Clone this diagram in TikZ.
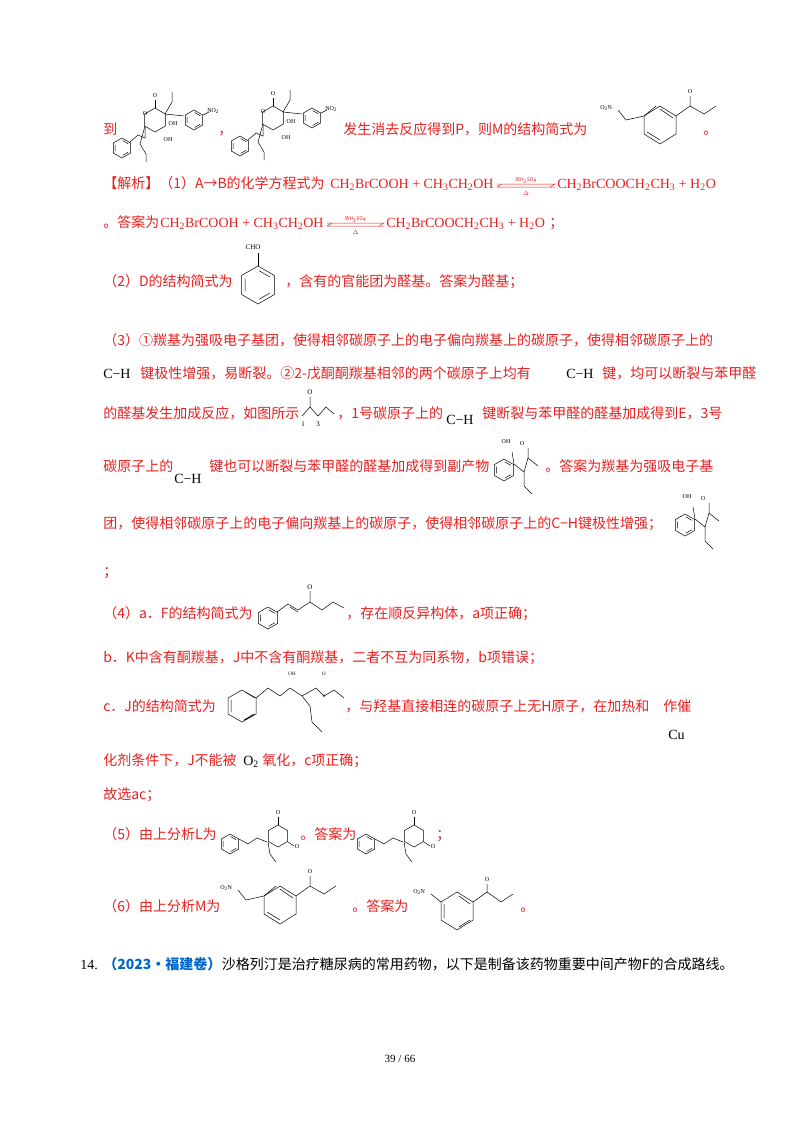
\documentclass[tikz,border=0pt]{standalone}
\usepackage{fontspec}
\setmainfont{Liberation Serif}
\newfontfamily\cjk{Noto Sans CJK SC}
\definecolor{rd}{RGB}{232,32,32}
\definecolor{bl}{RGB}{0,102,204}
\newcommand\hexa[3]{\draw[shift={(#1,#2)}] (30:#3)--(90:#3)--(150:#3)--(210:#3)--(270:#3)--(330:#3)--cycle;}
\newcommand\benz[3]{\hexa{#1}{#2}{#3}\draw[shift={(#1,#2)}] (35:#3*0.75)--(85:#3*0.75) (155:#3*0.75)--(205:#3*0.75) (275:#3*0.75)--(325:#3*0.75);}
\newcommand\molA[2]{\begin{scope}[shift={(#1,#2)}]
 \hexa{45}{32}{12}
 \draw (45,20)--(45,12); \node[lab] at (45,8) {O};
 \benz{12}{60}{10}
 \draw (20,54)--(28,47)--(35,50)--(35,38);
 \draw (35,38)--(30,56)--(36,66)--(36,74);
 \draw (55,26)--(62,14)--(62,4);
 \benz{84}{32}{10}
 \draw (55,26)--(74,28);
 \draw (93,27)--(99,24); \node[lab,anchor=west] at (97,23) {NO\textsubscript{2}};
 \node[lab] at (63,36) {OH}; \node[lab] at (58,52) {OH};
 \node[lab] at (35,26) {O};
\end{scope}}
\newcommand\molB[2]{\begin{scope}[shift={(#1,#2)}]
 \node[lab] at (12,0) {OH}; \node[lab] at (28,2) {O};
 \benz{10}{28}{11}
 \draw (20,22)--(18,10) (20,22)--(30,30)--(34,16)--(34,6) (34,16)--(44,24);
 \draw (30,30)--(30,44)--(38,52);
\end{scope}}
\newcommand\molL[2]{\begin{scope}[shift={(#1,#2)}]
 \benz{10}{26}{10}
 \draw (19,21)--(28,26)--(37,20)--(47,24);
 \hexa{58}{18}{11}
 \draw (58,7)--(58,-1); \node[lab] at (58,-5) {O};
 \draw (68,24)--(74,28); \node[lab] at (77,29) {O};
 \draw (48,24)--(50,36)--(56,44);
\end{scope}}
\newcommand\molM[2]{\begin{scope}[shift={(#1,#2)}]
 \node[lab,anchor=west] at (0,14) {O\textsubscript{2}N};
 \draw (18,16)--(26,26)--(44,22)--(56,12);
 \draw (44,22)--(44,40)--(60,50)--(76,40)--(76,22)--(60,12)--(44,22);
 \draw (47,38)--(60,46) (73,24)--(60,15);
 \draw (76,22)--(90,12)--(90,2); \node[lab] at (90,-2) {O};
 \draw (90,12)--(104,20)--(116,12);
\end{scope}}
\tikzset{lab/.style={font=\fontsize{6}{6}\selectfont,inner sep=0pt},
 t/.style={anchor=base west,inner sep=0pt,text=rd,font=\cjk\fontsize{14}{14}\selectfont},
 f/.style={anchor=base west,inner sep=0pt,text=rd,font=\fontsize{14}{14}\selectfont},
 blk/.style={anchor=base west,inner sep=0pt,font=\fontsize{14}{14}\selectfont}}
\newcommand\eqarrow[3]{\draw[rd,line width=0.5pt] (#1,#3-4)--(#2,#3-4)--++(-5,3); \draw[rd,line width=0.5pt] (#1,#3-1)--(#2,#3-1) (#1,#3-1)--++(5,-3);
 \node[lab,text=rd,font=\cjk\fontsize{5}{5}\selectfont] at ({(#1+#2)/2},#3-8) {浓H\textsubscript{2}SO\textsubscript{4}};
 \node[lab,text=rd] at ({(#1+#2)/2},#3+5) {$\Delta$};}
\begin{document}
\begin{tikzpicture}[x=1pt,y=-1pt,line width=0.5pt]
\useasboundingbox[fill=white] (0,0) rectangle (800,1132);
\node[t] (l1a) at (103,134) {到};
\molA{110}{88}
\node[t] (l1b) at (218,134) {，};
\molA{228}{86}
\node[t] (l1c) at (343,134) {发生消去反应得到P，则M的结构简式为};
\molM{600}{94}
\node[t] (l1d) at (703,134) {。};
\node[t] (l2a) at (103,188) {【解析】（1）A→B的化学方程式为};
\node[f] (l2b) at (330,188) {CH\textsubscript{2}BrCOOH + CH\textsubscript{3}CH\textsubscript{2}OH};
\eqarrow{497}{555}{188}
\node[f] (l2c) at (557,188) {CH\textsubscript{2}BrCOOCH\textsubscript{2}CH\textsubscript{3} + H\textsubscript{2}O};
\node[t] (l3a) at (103,227) {。答案为};
\node[f] (l3b) at (160,227) {CH\textsubscript{2}BrCOOH + CH\textsubscript{3}CH\textsubscript{2}OH};
\eqarrow{327}{384}{227}
\node[f] (l3c) at (386,227) {CH\textsubscript{2}BrCOOCH\textsubscript{2}CH\textsubscript{3} + H\textsubscript{2}O};
\node[t] (l3d) at (549,227) {；};
\node[t] (l4a) at (103,286) {（2）D的结构简式为};
\node[lab,font=\fontsize{7}{7}\selectfont] (cho) at (253,247) {CHO};
\draw (258,253)--(258,266);
\benz{258}{285}{19}
\node[t] (l4b) at (285,286) {，含有的官能团为醛基。答案为醛基；};
\node[t] (l5) at (103,345) {（3）①羰基为强吸电子基团，使得相邻碳原子上的电子偏向羰基上的碳原子，使得相邻碳原子上的};
\node[blk] (l6a) at (103,378) {C−H};
\node[t] (l6b) at (140,378) {键极性增强，易断裂。②2-戊酮酮羰基相邻的两个碳原子上均有};
\node[blk] (l6c) at (566,378) {C−H};
\node[t] (l6d) at (602,378) {键，均可以断裂与苯甲醛};
\node[t] (l7a) at (103,418) {的醛基发生加成反应，如图所示};
\node[lab,font=\fontsize{7}{7}\selectfont] at (310,392) {O};
\draw (310,397)--(310,407) (302,416)--(310,407)--(318,416)--(326,407)--(334,414);
\node[lab,font=\fontsize{7}{7}\selectfont] at (303,424) {1};
\node[lab,font=\fontsize{7}{7}\selectfont] at (318,424) {3};
\node[t] (l7b) at (337,418) {，1号碳原子上的};
\node[blk] (l7c) at (446,424) {C−H};
\node[t] (l7d) at (482,418) {键断裂与苯甲醛的醛基加成得到E，3号};
\node[t] (l8a) at (103,471) {碳原子上的};
\node[blk] (l8b) at (174,483) {C−H};
\node[t] (l8c) at (209,471) {键也可以断裂与苯甲醛的醛基加成得到副产物};
\molB{494}{442}
\node[t] (l8d) at (545,471) {。答案为羰基为强吸电子基};
\node[t] (l9a) at (103,528) {团，使得相邻碳原子上的电子偏向羰基上的碳原子，使得相邻碳原子上的C−H键极性增强；};
\molB{675}{497}
\node[t] (l10) at (103,576) {；};
\node[t] (l11a) at (103,618) {（4）a．F的结构简式为};
\benz{268}{618}{11}
\draw (277,612)--(288,604)--(298,610)--(310,602)--(310,591);
\draw (290,607)--(298,612);
\node[lab,font=\fontsize{7}{7}\selectfont] at (310,587) {O};
\draw (310,602)--(322,610)--(333,602)--(344,608);
\node[t] (l11b) at (346,618) {，存在顺反异构体，a项正确；};
\node[t] (l12) at (103,662) {b．K中含有酮羰基，J中不含有酮羰基，二者不互为同系物，b项错误；};
\node[t] (l13a) at (103,711) {c．J的结构简式为};
\begin{scope}[shift={(228,680)}]
 \draw (0,18)--(14,10)--(28,18)--(28,34)--(14,42)--(0,34)--cycle (3,20)--(3,32) (17,12)--(27,18) (16,40)--(26,34);
 \draw (28,18)--(40,8)--(52,16)--(62,8)--(74,16)--(82,26)--(84,42)--(94,52);
 \draw (74,16)--(88,8)--(96,16)--(106,10)--(116,18);
 \node[lab,font=\fontsize{5}{5}\selectfont] at (64,-6) {OH};
 \node[lab,font=\fontsize{5}{5}\selectfont] at (96,-6) {O};
 \node[lab,font=\fontsize{5}{5}\selectfont] at (96,16) {o};
\end{scope}
\node[t] (l13b) at (345,711) {，与羟基直接相连的碳原子上无H原子，在加热和　作催};
\node[blk] (cu) at (668,739) {Cu};
\node[t] (l14a) at (103,765) {化剂条件下，J不能被};
\node[blk] (l14b) at (243,765) {O\textsubscript{2}};
\node[t] (l14c) at (262,765) {氧化，c项正确；};
\node[t] (l15) at (103,799) {故选ac；};
\node[t] (l16a) at (103,839) {（5）由上分析L为};
\molL{220}{818}
\node[t] (l16b) at (300,839) {。答案为};
\molL{356}{818}
\node[t] (l16c) at (436,839) {；};
\node[t] (l17a) at (103,911) {（6）由上分析M为};
\molM{220}{874}
\node[t] (l17b) at (352,911) {。答案为};
\begin{scope}[shift={(413,884)}]
 \node[lab,anchor=west] at (0,8) {O\textsubscript{2}N};
 \draw (18,10)--(28,18);
 \draw (28,18)--(44,8)--(60,18)--(60,36)--(44,46)--(28,36)--cycle (31,20)--(31,34) (46,43)--(57,36) (57,20)--(46,12);
 \draw (60,18)--(74,8)--(74,0); \node[lab] at (74,-4) {O};
 \draw (74,8)--(88,18)--(100,10);
\end{scope}
\node[t] (l17c) at (520,911) {。};
\node[blk] (n14) at (80,969) {14.};
\node[t,text=bl,font=\cjk\bfseries\fontsize{14}{14}\selectfont] (src) at (103,969) {（2023·福建卷）};
\node[t,text=black,anchor=base west] (l18) at (src.base east) {沙格列汀是治疗糖尿病的常用药物，以下是制备该药物重要中间产物F的合成路线。};
\node[anchor=base,inner sep=0pt,font=\fontsize{11}{11}\selectfont] (pg) at (400,1062) {39 / 66};
\end{tikzpicture}
\end{document}
